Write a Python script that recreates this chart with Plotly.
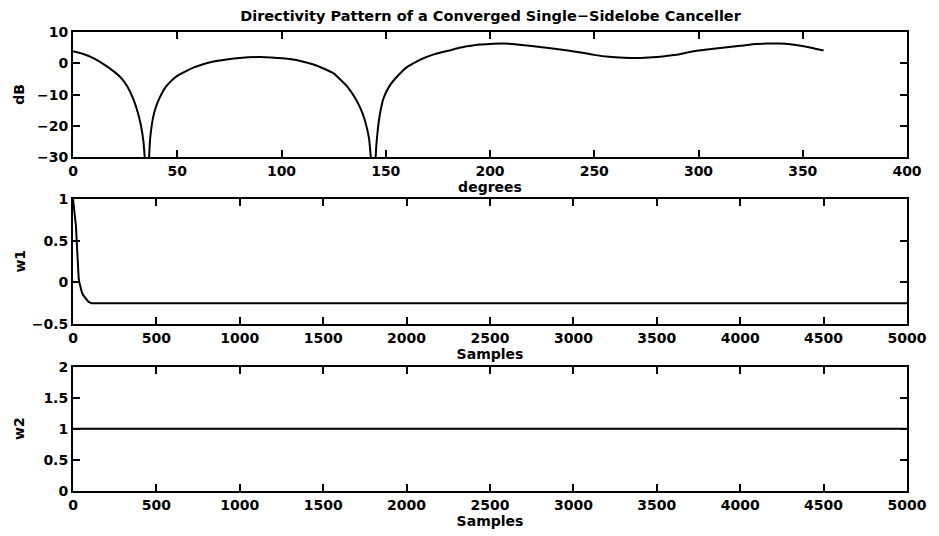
import plotly.graph_objects as go
from plotly.subplots import make_subplots

# --- Directivity pattern ---
deg = [0, 5, 10, 15, 20, 23, 26, 29, 31, 32.5, 33.8, 35.6, 37, 38.5, 40, 41.7, 44, 46.5, 50, 54.5,
       58, 62.4, 67, 73.6, 80, 88.8, 95, 104.8, 110, 115, 120.7, 125, 128.7, 132, 135.1, 138, 139.9,
       142, 144.2, 145.5, 147, 149, 151.9, 156.6, 160, 163, 167, 171, 175, 180, 185, 190, 195, 200,
       206, 212, 220, 230, 237.3, 245, 250, 257, 264.4, 270, 274, 280, 285.2, 290, 296.4, 303,
       311.5, 320, 327.5, 333, 338.7, 344, 348.3, 354, 360]
dB = [3.9, 3.0, 1.6, -0.4, -2.8, -4.6, -7.3, -11.5, -15.5, -19.5, -25.0, -40.0, -24.0, -17.0, -13.5,
      -10.8, -8.0, -6.0, -4.0, -2.4, -1.3, -0.3, 0.5, 1.2, 1.7, 2.0, 1.9, 1.3, 0.6, -0.3, -1.8,
      -3.2, -5.5, -7.8, -10.8, -14.5, -18.0, -24.0, -40.0, -26.0, -17.0, -11.0, -7.1, -3.4, -1.3,
      -0.1, 1.3, 2.4, 3.2, 4.0, 4.9, 5.5, 6.0, 6.2, 6.3, 6.1, 5.5, 4.7, 4.1, 3.3, 2.7, 2.1, 1.8,
      1.7, 1.8, 2.0, 2.4, 2.8, 3.7, 4.3, 5.0, 5.6, 6.2, 6.3, 6.3, 6.1, 5.7, 5.0, 4.1]

# --- w1 weight trajectory ---
w1_n = [0, 4, 8, 12, 18, 22, 26, 30, 34, 38, 44, 52, 60, 70, 82, 92, 100, 112, 5000]
w1_v = [1.0, 0.93, 0.85, 0.77, 0.67, 0.50, 0.30, 0.15, 0.05, 0.0, -0.06, -0.11, -0.15, -0.18,
        -0.21, -0.23, -0.24, -0.25, -0.25]

# --- w2 weight trajectory ---
w2_n = [0, 5000]
w2_v = [1.0, 1.0]

title_text = "Directivity Pattern of a Converged Single\u2212Sidelobe Canceller"
y_titles = ["dB", "w1", "w2"]

W, H = 939, 536
ml, mr, mt, mb = 73, 31, 32, 39
ph = H - mt - mb
pw = W - ml - mr

def dom(top_px, bot_px):
    return [(H - mb - bot_px) / ph, (H - mb - top_px) / ph]

fig = make_subplots(rows=3, cols=1)
line = dict(color="black", width=2)
fig.add_trace(go.Scatter(x=deg, y=dB, mode="lines", line=dict(color="black", width=2, shape="spline", smoothing=0.5)), row=1, col=1)
fig.add_trace(go.Scatter(x=w1_n, y=w1_v, mode="lines", line=line), row=2, col=1)
fig.add_trace(go.Scatter(x=w2_n, y=w2_v, mode="lines", line=line), row=3, col=1)

font = dict(family="DejaVu Sans", size=14, color="black", weight="bold")

axcommon = dict(showline=True, linecolor="black", linewidth=2, mirror="ticks", ticks="inside",
                ticklen=7, tickwidth=2, tickcolor="black", showgrid=False, zeroline=False,
                tickfont=font, title_font=font)

doms = [dom(32, 159), dom(201, 328), dom(371, 497)]
for txt, d in zip(y_titles, doms):
    fig.add_annotation(text=txt, xref="paper", yref="paper", x=(19 - ml) / pw, y=(d[0] + d[1]) / 2,
                       xanchor="center", yanchor="middle", textangle=-90, showarrow=False, font=font)

fig.update_layout(
    width=W, height=H, margin=dict(l=ml, r=mr, t=mt, b=mb),
    paper_bgcolor="white", plot_bgcolor="white", showlegend=False,
    title=dict(text=title_text, x=(ml + pw / 2) / W, xanchor="center",
               y=1 - 16 / H, yanchor="middle",
               font=dict(family="DejaVu Sans", size=14.5, color="black", weight="bold")),
    xaxis=dict(range=[0, 400], tickvals=list(range(0, 401, 50)), title=dict(text="degrees", standoff=1), **axcommon),
    yaxis=dict(range=[-30, 10], tickvals=[-30, -20, -10, 0, 10], domain=doms[0], **axcommon),
    xaxis2=dict(range=[0, 5000], tickvals=list(range(0, 5001, 500)), title=dict(text="Samples", standoff=1), **axcommon),
    yaxis2=dict(range=[-0.5, 1], tickvals=[-0.5, 0, 0.5, 1], domain=doms[1], **axcommon),
    xaxis3=dict(range=[0, 5000], tickvals=list(range(0, 5001, 500)), title=dict(text="Samples", standoff=1), **axcommon),
    yaxis3=dict(range=[0, 2], tickvals=[0, 0.5, 1, 1.5, 2], domain=doms[2], **axcommon),
)

fig.write_html("out.html")
